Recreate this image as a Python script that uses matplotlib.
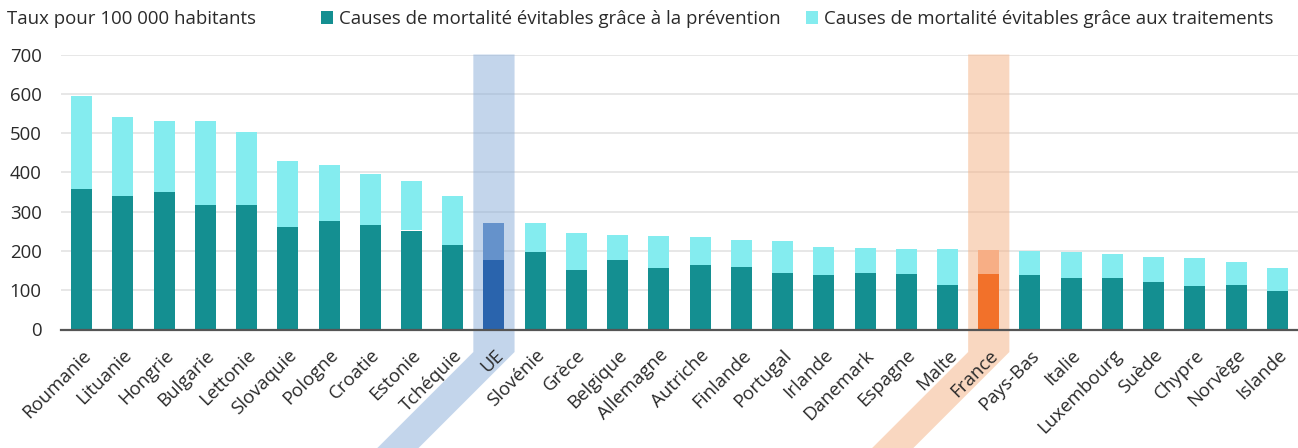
import matplotlib
matplotlib.use("Agg")
from matplotlib import pyplot as plt
from matplotlib.patches import Polygon
from matplotlib.transforms import IdentityTransform
import numpy as np

plt.rcParams['font.family'] = ['Open Sans', 'DejaVu Sans']

pays = ['Roumanie', 'Lituanie', 'Hongrie', 'Bulgarie', 'Lettonie', 'Slovaquie',
        'Pologne', 'Croatie', 'Estonie', 'Tchéquie', 'UE', 'Slovénie', 'Grèce',
        'Belgique', 'Allemagne', 'Autriche', 'Finlande', 'Portugal', 'Irlande',
        'Danemark', 'Espagne', 'Malte', 'France', 'Pays-Bas', 'Italie',
        'Luxembourg', 'Suède', 'Chypre', 'Norvège', 'Islande']
prevention = [358, 341, 351, 316, 318, 262, 275, 265, 252, 216, 178, 198, 152,
              176, 157, 165, 158, 145, 140, 144, 142, 114, 142, 140, 130, 132,
              122, 111, 114, 98]
total = [594, 540, 530, 530, 502, 430, 418, 396, 377, 341, 272, 270, 245, 240,
         238, 235, 228, 224, 211, 208, 205, 204, 203, 200, 196, 193, 185, 183,
         172, 156]
traitements = [t - p for t, p in zip(total, prevention)]

c_prev = '#148F91'
c_trait = '#84ECEF'
# colours of highlighted bars: (prevention, traitements, band)
highlight = {'UE': ('#2A64AD', '#6592CB', '#89ADD9'),
             'France': ('#F2712A', '#F7AE85', '#F5B183')}

fs = 13.4
txt = '#2a2a2a'

W, H = 1298, 448
fig = plt.figure(figsize=(W / 100, H / 100), dpi=100)
ax = fig.add_axes([61 / W, 1 - 329.5 / H, 1 - 61 / W, (329.5 - 54.5) / H])

x = np.arange(len(pays))
col_p = [highlight[p][0] if p in highlight else c_prev for p in pays]
col_t = [highlight[p][1] if p in highlight else c_trait for p in pays]
ax.bar(x, prevention, width=0.51, color=col_p, zorder=2,
       label='Causes de mortalité évitables grâce à la prévention')
ax.bar(x, traitements, bottom=prevention, width=0.51, color=col_t, zorder=2,
       label='Causes de mortalité évitables grâce aux traitements')

ax.set_xlim(-0.5, len(pays) - 0.5)
ax.set_ylim(0, 700)
ax.set_yticks(range(0, 701, 100))
ax.set_xticks(x)
ax.set_xticklabels(pays, rotation=45, ha='right', rotation_mode='anchor',
                   fontsize=fs, color=txt)
ax.tick_params(axis='x', length=0, pad=12)
ax.tick_params(axis='y', length=0, pad=14, labelsize=fs, labelcolor=txt)

ax.grid(axis='y', color='#E3E3E3', linewidth=1.2)
ax.set_axisbelow(True)
ax.xaxis.set_zorder(3)
for s in ['top', 'right', 'left']:
    ax.spines[s].set_visible(False)
ax.spines['bottom'].set_color('#555555')
ax.spines['bottom'].set_linewidth(1.6)
ax.spines['bottom'].set_zorder(2.5)

# highlight bands (vertical strip then a 45 degree leg down to the bottom edge)
for p, cols in highlight.items():
    i = pays.index(p)
    x0, ytop = ax.transData.transform((i - 0.5, 700))
    x1, ybot = ax.transData.transform((i + 0.5, 0))
    yk = ybot - 22.5
    verts = [(x0, ytop), (x1, ytop), (x1, yk), (x1 - yk, 0), (x0 - yk, 0), (x0, yk)]
    band = Polygon(verts, closed=True, transform=IdentityTransform(),
                   facecolor=cols[2], alpha=0.5, edgecolor='none',
                   clip_on=False, zorder=1)
    ax.add_patch(band)

fig.text(7 / W, 1 - 19 / H, 'Taux pour 100 000 habitants', fontsize=fs,
         color=txt, va='center', ha='left')
leg = ax.legend(loc='center left', bbox_to_anchor=(321 / W, 1 - 19 / H),
                bbox_transform=fig.transFigure, ncol=2, frameon=False,
                fontsize=fs, handlelength=0.65, handleheight=0.65,
                handletextpad=0.3, columnspacing=1.4, borderpad=0,
                borderaxespad=0)
for t in leg.get_texts():
    t.set_color(txt)

fig.savefig('out.png', dpi=100)
